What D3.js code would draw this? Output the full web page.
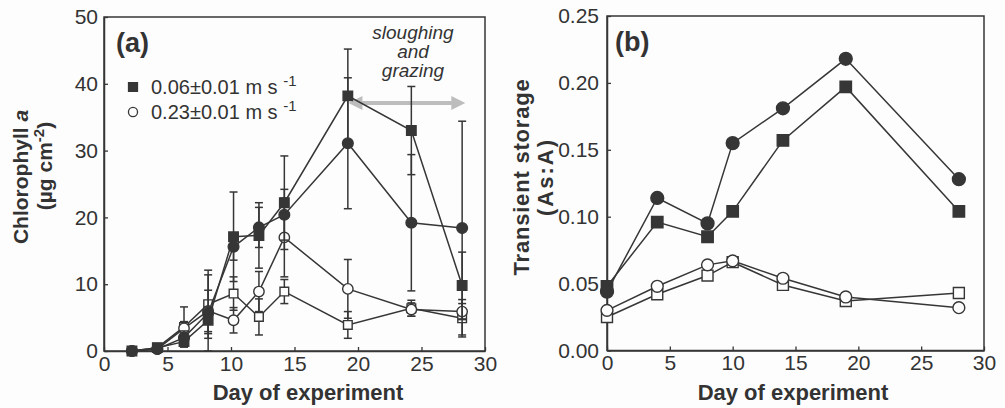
<!DOCTYPE html>
<html>
<head>
<meta charset="utf-8">
<script src="https://cdnjs.cloudflare.com/ajax/libs/d3/7.8.5/d3.min.js"></script>
<style>
  body { margin: 0; background: #fdfdfd; }
  svg { display: block; }
  text { font-family: "Liberation Sans", Arial, sans-serif; fill: #333; }
</style>
</head>
<body>
<svg id="chart" width="1005" height="408"></svg>
<script>
// panel (a): chlorophyll a, days of sampling
var daysA = [2.2, 4.2, 6.3, 8.2, 10.2, 12.2, 14.2, 19.2, 24.2, 28.2];
var chlSlowFilled = [0, 0.5, 1.4, 4.6, 17.1, 17.3, 22.2, 38.2, 33.0, 9.8];
var chlSlowFilledErr = [0, 0.3, 0.8, 2.0, 6.7, 4.9, 7.0, 7.0, 6.6, 5.0];
var chlFastFilled = [0, 0.3, 2.0, 5.7, 15.6, 18.5, 20.4, 31.1, 19.2, 18.4];
var chlFastFilledErr = [0, 0.3, 1.0, 5.7, 2.0, 3.0, 3.8, 9.8, 10.2, 16.0];
var chlSlowOpen = [0, 0.5, 3.6, 7.0, 8.6, 5.1, 8.9, 3.9, 6.4, 4.9];
var chlSlowOpenErr = [0, 0.3, 3.0, 5.1, 2.5, 2.7, 1.8, 2.0, 1.2, 2.8];
var chlFastOpen = [0, 0.3, 3.4, 6.0, 4.6, 8.9, 17.0, 9.3, 6.2, 5.9];
var chlFastOpenErr = [0, 0.2, 1.0, 3.1, 1.9, 3.0, 5.9, 4.4, 1.0, 1.2];

// panel (b): transient storage
var daysB = [0, 4, 8, 10, 14, 19, 28];
var tsFilledCircle = [0.044, 0.114, 0.095, 0.155, 0.181, 0.218, 0.128];
var tsFilledSquare = [0.048, 0.096, 0.085, 0.104, 0.157, 0.197, 0.104];
var tsOpenCircle = [0.030, 0.048, 0.064, 0.067, 0.054, 0.040, 0.032];
var tsOpenSquare = [0.025, 0.042, 0.056, 0.066, 0.049, 0.037, 0.043];

var xTicks = [0, 5, 10, 15, 20, 25, 30];
var yTicksA = [0, 10, 20, 30, 40, 50];
var yTicksB = [0, 0.05, 0.10, 0.15, 0.20, 0.25];
var legendLabels = ["0.06\u00b10.01 m s", "0.23\u00b10.01 m s"];

var ink = "#363636";
var svg = d3.select("#chart");

function zip(xs, ys, es) {
    return xs.map(function (d, i) {
        return { x: d, y: ys[i], e: es ? es[i] : 0 };
    });
}

function drawAxes(g, x, y, yTicks, yFmt, yPad) {
    var r = x.range(), h = y.range();
    g.append("rect")
        .attr("x", r[0]).attr("y", h[1])
        .attr("width", r[1] - r[0]).attr("height", h[0] - h[1])
        .attr("fill", "none").attr("stroke", ink).attr("stroke-width", 1.5);
    var ax = g.append("g").attr("transform", "translate(0," + h[0] + ")")
        .call(d3.axisBottom(x).tickValues(xTicks).tickSizeInner(-4).tickSizeOuter(0).tickPadding(5));
    var ay = g.append("g").attr("transform", "translate(" + r[0] + ",0)")
        .call(d3.axisLeft(y).tickValues(yTicks).tickFormat(yFmt).tickSizeInner(-4).tickSizeOuter(0).tickPadding(yPad));
    [ax, ay].forEach(function (a) {
        a.select(".domain").attr("stroke", ink).attr("stroke-width", 1.5);
        a.selectAll(".tick line").attr("stroke", ink).attr("stroke-width", 1.3);
        a.selectAll(".tick text").attr("fill", "#333").style("font-size", "21px")
            .style("font-family", "'Liberation Sans', Arial, sans-serif");
    });
}

function drawSeries(g, x, y, pts, shape, filled, size, errs) {
    var line = d3.line().x(function (d) { return x(d.x); }).y(function (d) { return y(d.y); });
    g.append("path").datum(pts).attr("d", line)
        .attr("fill", "none").attr("stroke", ink).attr("stroke-width", 1.5);
    if (errs) {
        var eb = g.append("g").attr("stroke", ink).attr("stroke-width", 1.5);
        pts.filter(function (d) { return d.e > 0.4; }).forEach(function (d) {
            var cx = x(d.x), top = y(d.y + d.e), bot = y(Math.max(0, d.y - d.e));
            eb.append("line").attr("x1", cx).attr("x2", cx).attr("y1", top).attr("y2", bot);
            eb.append("line").attr("x1", cx - 4).attr("x2", cx + 4).attr("y1", top).attr("y2", top);
            eb.append("line").attr("x1", cx - 4).attr("x2", cx + 4).attr("y1", bot).attr("y2", bot);
        });
    }
    var sym = d3.symbol().type(shape === "square" ? d3.symbolSquare : d3.symbolCircle).size(size);
    g.selectAll(null).data(pts).enter().append("path")
        .attr("d", sym)
        .attr("transform", function (d) { return "translate(" + x(d.x) + "," + y(d.y) + ")"; })
        .attr("fill", filled ? ink : "#fdfdfd")
        .attr("stroke", ink).attr("stroke-width", 1.4);
}

// ---------- panel (a)
var xA = d3.scaleLinear().domain([0, 30]).range([104, 485]);
var yA = d3.scaleLinear().domain([0, 50]).range([351, 17]);
var gA = svg.append("g");
drawAxes(gA, xA, yA, yTicksA, d3.format("d"), 6);

// grey arrow for sloughing and grazing
var arrowY = 103;
gA.append("defs").append("marker").attr("id", "ah")
    .attr("viewBox", "0 0 10 10").attr("refX", 5).attr("refY", 5)
    .attr("markerWidth", 4).attr("markerHeight", 3.5).attr("orient", "auto-start-reverse")
    .append("path").attr("d", "M0,0 L10,5 L0,10 z").attr("fill", "#bdbdbd");
gA.append("line").attr("x1", xA(19.8)).attr("x2", xA(27.9)).attr("y1", arrowY).attr("y2", arrowY)
    .attr("stroke", "#bdbdbd").attr("stroke-width", 4)
    .attr("marker-start", "url(#ah)").attr("marker-end", "url(#ah)");

drawSeries(gA, xA, yA, zip(daysA, chlSlowOpen, chlSlowOpenErr), "square", false, 75, true);
drawSeries(gA, xA, yA, zip(daysA, chlFastOpen, chlFastOpenErr), "circle", false, 85, true);
drawSeries(gA, xA, yA, zip(daysA, chlFastFilled, chlFastFilledErr), "circle", true, 90, true);
drawSeries(gA, xA, yA, zip(daysA, chlSlowFilled, chlSlowFilledErr), "square", true, 90, true);

gA.append("text").attr("x", 116).attr("y", 52).style("font-size", "27px").style("font-weight", "bold").text("(a)");

var slough = gA.append("text").attr("text-anchor", "middle").style("font-size", "19px").style("font-style", "italic");
["sloughing", "and", "grazing"].forEach(function (t, i) {
    slough.append("tspan").attr("x", 413).attr("y", 39 + i * 19).text(t);
});

// legend
var legShapes = [{ shape: d3.symbolSquare, filled: true }, { shape: d3.symbolCircle, filled: false }];
legendLabels.forEach(function (lab, i) {
    var ly = 87 + i * 25;
    gA.append("path").attr("d", d3.symbol().type(legShapes[i].shape).size(i === 0 ? 80 : 65))
        .attr("transform", "translate(133," + ly + ")")
        .attr("fill", legShapes[i].filled ? ink : "#fdfdfd").attr("stroke", ink).attr("stroke-width", 1.3);
    var t = gA.append("text").attr("x", 151).attr("y", ly + 7).style("font-size", "20px");
    t.append("tspan").text(lab + " ");
    t.append("tspan").attr("dy", -8).style("font-size", "15px").text("-1");
});

var yTitleA = gA.append("text").attr("transform", "translate(28,177) rotate(-90)")
    .attr("text-anchor", "middle").style("font-size", "21px").style("font-weight", "bold");
yTitleA.append("tspan").text("Chlorophyll ");
yTitleA.append("tspan").style("font-style", "italic").text("a");
var yTitle2A = gA.append("text").attr("transform", "translate(52,166) rotate(-90)")
    .attr("text-anchor", "middle").style("font-size", "21px").style("font-weight", "bold");
yTitle2A.append("tspan").text("(\u00b5g cm");
yTitle2A.append("tspan").attr("dy", -8).style("font-size", "15px").text("-2");
yTitle2A.append("tspan").attr("dy", 8).text(")");

gA.append("text").attr("x", 308).attr("y", 400).attr("text-anchor", "middle")
    .style("font-size", "22px").style("font-weight", "bold").text("Day of experiment");

// ---------- panel (b)
var xB = d3.scaleLinear().domain([0, 30]).range([607, 984]);
var yB = d3.scaleLinear().domain([0, 0.25]).range([350.5, 16]);
var gB = svg.append("g");
drawAxes(gB, xB, yB, yTicksB, d3.format(".2f"), 8);

drawSeries(gB, xB, yB, zip(daysB, tsOpenSquare), "square", false, 120);
drawSeries(gB, xB, yB, zip(daysB, tsOpenCircle), "circle", false, 110);
drawSeries(gB, xB, yB, zip(daysB, tsFilledSquare), "square", true, 130);
drawSeries(gB, xB, yB, zip(daysB, tsFilledCircle), "circle", true, 130);

gB.append("text").attr("x", 615).attr("y", 51).style("font-size", "27px").style("font-weight", "bold").text("(b)");

gB.append("text").attr("transform", "translate(529,177) rotate(-90)")
    .attr("text-anchor", "middle").style("font-size", "22px").style("font-weight", "bold")
    .style("letter-spacing", "0.8px").text("Transient storage");
gB.append("text").attr("transform", "translate(553,177) rotate(-90)")
    .attr("text-anchor", "middle").style("font-size", "22px").style("font-weight", "bold")
    .style("letter-spacing", "2px").text("(As:A)");

gB.append("text").attr("x", 793).attr("y", 400).attr("text-anchor", "middle")
    .style("font-size", "22px").style("font-weight", "bold").text("Day of experiment");
</script>
</body>
</html>
